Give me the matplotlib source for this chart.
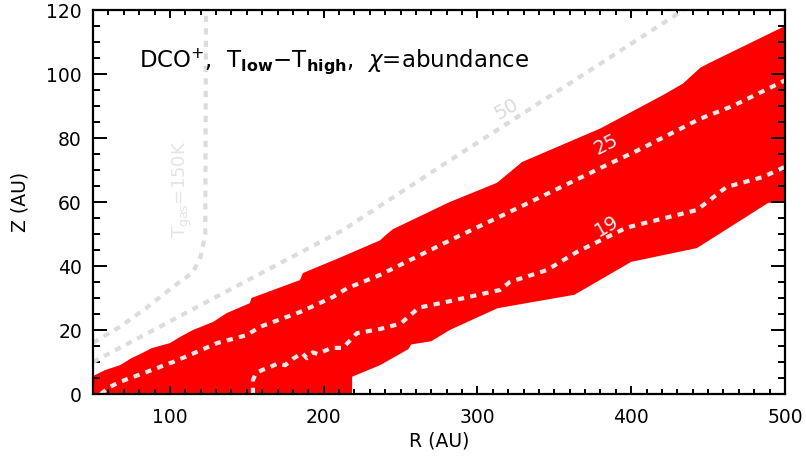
import matplotlib
matplotlib.use("Agg")
import matplotlib.pyplot as plt
from matplotlib.ticker import MultipleLocator

# Red emission region (upper and lower boundaries)
upper_R = [50, 58, 67.5, 75, 82, 88, 100, 106.5, 115, 128, 137, 152, 153, 184.6, 186.5,
           210, 236.6, 240, 245, 282, 312.7, 329, 380, 420.6, 433.6, 445, 451, 500]
upper_Z = [5.6, 7.5, 9, 11.2, 12.8, 14.3, 15.9, 17.8, 20, 22.5, 25.3, 28.4, 30, 35.6, 37.8,
           42.5, 48, 49.5, 51.5, 60, 66, 72.5, 83, 93.4, 97, 102, 103.5, 115]
lower_R = [50, 218.5, 218.5, 236.6, 255, 257, 270, 282, 313, 363, 400, 442.7, 489, 500]
lower_Z = [0, 0, 5.4, 9, 14, 15.5, 16.5, 20, 26.8, 31, 41.3, 45.6, 59.7, 60]

# Contours
c25_R = [55, 61, 67.5, 85, 102, 113, 130.6, 150, 158.6, 184.6, 206, 215, 236.6, 282,
         325.7, 381.6, 403.7, 444.7, 466, 500]
c25_Z = [0, 2.2, 3.8, 6.9, 10, 12.2, 15.9, 18.4, 21, 25.6, 30.3, 33, 37.2, 48,
         58, 71, 76, 86, 90, 98]
c19_R = [154, 154, 156, 160, 165, 170, 175, 180, 186, 189, 193, 196, 205, 212.5, 221.6,
         236.6, 250, 262, 282, 314.6, 321, 345, 364.7, 397, 442.7, 462, 485.6, 500]
c19_Z = [0, 4.4, 6.5, 7.5, 8.4, 9.5, 9, 11, 12.8, 11.2, 13, 12.5, 14.4, 14.4, 19,
         20.3, 22, 27, 29, 32.5, 35, 38.7, 44.4, 52, 57.5, 64.7, 67.8, 71]
c50_R = [50, 100, 150, 212.5, 282, 363, 434]
c50_Z = [10, 22.7, 35.4, 51.2, 73, 98, 120]
tgas_R = [50, 67.5, 85, 102, 115, 120, 123, 123.5]
tgas_Z = [16, 21, 27, 33.5, 38, 43, 50, 120]

title = r"DCO$^{+}$,  T$_{\mathbf{low}}$$-$T$_{\mathbf{high}}$,  $\chi$=abundance"

plt.rcParams['font.family'] = ['DejaVu Sans']
plt.rcParams['mathtext.fontset'] = 'dejavusans'

fig = plt.figure(figsize=(8.06, 4.58), dpi=100)
ax = fig.add_axes([93/806, 1 - 394/458, (785-93)/806, (394-10)/458])

poly_R = upper_R + lower_R[::-1]
poly_Z = upper_Z + lower_Z[::-1]
ax.fill(poly_R, poly_Z, color='#ff0000', lw=0, zorder=1)

dot = (0, (1.5, 1.5))
ax.plot(c50_R, c50_Z, color='#dcdcdc', lw=3, ls=dot, dash_capstyle='butt', zorder=2)
ax.plot(tgas_R, tgas_Z, color='#dcdcdc', lw=3, ls=dot, dash_capstyle='butt', zorder=2)
ax.plot(c25_R, c25_Z, color='#e8e8e8', lw=3, ls=dot, dash_capstyle='butt', zorder=3)
ax.plot(c19_R, c19_Z, color='#e8e8e8', lw=3, ls=dot, dash_capstyle='butt', zorder=3)

ax.text(384, 78, "25", color='#eeeeee', fontsize=14, rotation=27, ha='center', va='center', zorder=4)
ax.text(384, 52.5, "19", color='#eeeeee', fontsize=14, rotation=30, ha='center', va='center', zorder=4)
ax.text(319, 89, "50", color='#dcdcdc', fontsize=14, rotation=30, ha='center', va='center', zorder=4)
ax.text(108, 64, r"T$_{\rm gas}$=150K", color='#e4e4e4', fontsize=13, rotation=90,
        ha='center', va='center', zorder=4)
ax.text(80, 102, title, fontsize=16.5, ha='left', va='baseline', zorder=5)

ax.set_xlim(50, 500)
ax.set_ylim(0, 120)
ax.xaxis.set_major_locator(MultipleLocator(100))
ax.xaxis.set_minor_locator(MultipleLocator(10))
ax.yaxis.set_major_locator(MultipleLocator(20))
ax.yaxis.set_minor_locator(MultipleLocator(5))
ax.tick_params(which='both', direction='in', top=True, right=True, width=1.4, labelsize=13.5)
ax.tick_params(axis='x', which='major', length=6, pad=10)
ax.tick_params(axis='x', which='minor', length=3.5)
ax.tick_params(axis='y', which='major', length=10, pad=8)
ax.tick_params(axis='y', which='minor', length=5)
for s in ax.spines.values():
    s.set_linewidth(1.6)
    s.set_zorder(6)
ax.set_xlabel("R (AU)", fontsize=13.5, labelpad=3)
ax.set_ylabel("Z (AU)", fontsize=13.5, labelpad=12)

fig.savefig("out.png", dpi=100)
